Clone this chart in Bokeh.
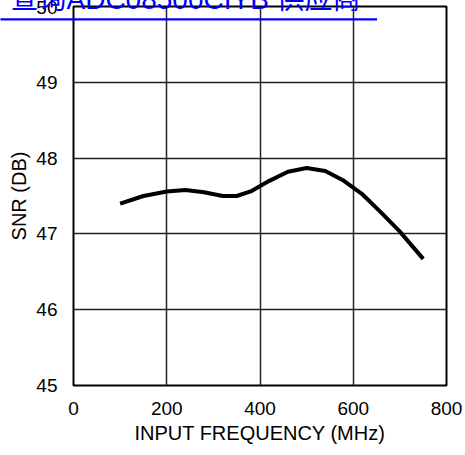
from bokeh.plotting import figure
from bokeh.models import FixedTicker, Title
from bokeh.embed import file_html
from bokeh.resources import INLINE

freq_mhz = [100, 150, 200, 240, 280, 320, 350, 380, 420, 460, 500, 540, 580, 620, 660, 700, 750]
snr_db = [47.40, 47.50, 47.56, 47.58, 47.55, 47.50, 47.50, 47.56, 47.70, 47.82, 47.87, 47.83, 47.70, 47.52, 47.28, 47.03, 46.67]
x_ticks = [0, 200, 400, 600, 800]
y_ticks = [45, 46, 47, 48, 49, 50]
link_text = "查询ADC08500CIYB 供应商"

FONT = "Liberation Sans"

p = figure(width=465, height=455, output_backend="svg", toolbar_location=None,
           x_range=(0, 800), y_range=(45, 50),
           min_border_left=73, min_border_right=19, min_border_top=6, min_border_bottom=70)
p.background_fill_color = "white"
p.border_fill_color = "white"
p.outline_line_color = "black"
p.outline_line_width = 2

p.line(freq_mhz, snr_db, line_color="black", line_width=4)

p.xaxis.ticker = FixedTicker(ticks=x_ticks)
p.yaxis.ticker = FixedTicker(ticks=y_ticks)
p.xgrid.ticker = FixedTicker(ticks=x_ticks)
p.ygrid.ticker = FixedTicker(ticks=y_ticks)
for g in (p.xgrid, p.ygrid):
    g.grid_line_color = "#222222"
    g.grid_line_width = 1.5

for ax in (p.xaxis, p.yaxis):
    ax.axis_line_color = None
    ax.major_tick_line_color = None
    ax.minor_tick_line_color = None
    ax.major_label_text_font = FONT
    ax.major_label_text_font_size = "19px"
    ax.major_label_text_color = "black"
    ax.axis_label_text_font = FONT
    ax.axis_label_text_font_size = "20px"
    ax.axis_label_text_font_style = "normal"
    ax.axis_label_text_color = "black"
    ax.major_label_standoff = 10

p.xaxis.axis_label = "INPUT FREQUENCY (MHz)"
p.yaxis.axis_label = "SNR (DB)"
p.xaxis.axis_label_standoff = 4
p.yaxis.axis_label_standoff = 3

link = Title(text=link_text, align="left", vertical_align="top",
             offset=-63, standoff=-46,
             text_font="Liberation Sans, Noto Sans CJK SC", text_font_size="28px",
             text_font_style="normal", text_color="#0000ff")
p.add_layout(link, "above")

underline = Title(text=" ", align="left", vertical_align="bottom",
                  offset=-73, standoff=-28,
                  text_font=FONT, text_font_size="2px",
                  padding={"left": 188, "right": 188, "top": 0, "bottom": 0},
                  background_fill_color="#0000ff", background_fill_alpha=1.0,
                  text_color="#0000ff")
p.add_layout(underline, "above")

open("out.html", "w").write(file_html(p, INLINE))
